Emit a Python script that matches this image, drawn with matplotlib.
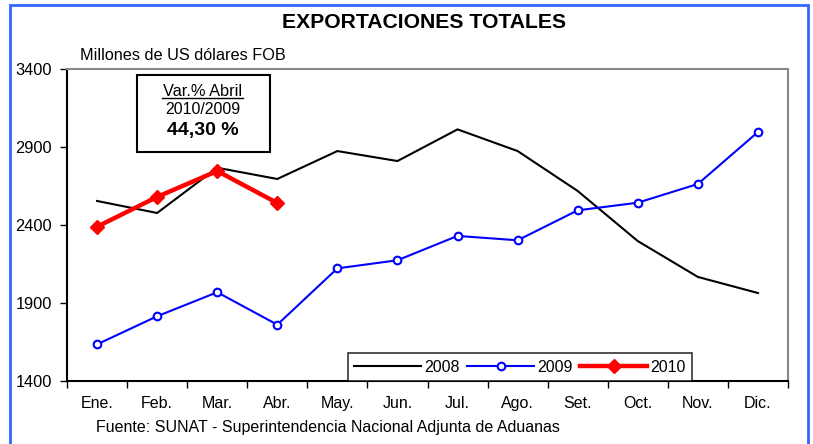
import matplotlib
matplotlib.use("Agg")
import matplotlib.pyplot as plt
from matplotlib.patches import Rectangle

plt.rcParams['font.family'] = ['Liberation Sans', 'DejaVu Sans']

# data (millones de US$ FOB)
meses = ['Ene.', 'Feb.', 'Mar.', 'Abr.', 'May.', 'Jun.', 'Jul.', 'Ago.', 'Set.', 'Oct.', 'Nov.', 'Dic.']
exp_2008 = [2554, 2477, 2767, 2695, 2874, 2810, 3013, 2874, 2618, 2297, 2067, 1964]
exp_2009 = [1635, 1815, 1969, 1761, 2122, 2174, 2330, 2302, 2494, 2543, 2663, 2996]
exp_2010 = [2389, 2580, 2746, 2541]
y_ticks = [1400, 1900, 2400, 2900, 3400]

fig = plt.figure(figsize=(8.13, 4.44), dpi=100)
ax = fig.add_axes([67/813, 1-381/444, 721/813, 312/444])

x = list(range(len(meses)))
ax.plot(x, exp_2008, color='black', lw=1.5, label='2008')
ax.plot(x, exp_2009, color='#0000ff', lw=1.5, marker='o', ms=5.5,
        mfc='white', mec='#0000ff', mew=1.5, label='2009')
ax.plot(x[:len(exp_2010)], exp_2010, color='#ff0000', lw=3.2, marker='D',
        ms=7, mfc='#ff0000', mec='#ff0000', label='2010')

ax.set_xlim(-0.5, 11.5)
ax.set_ylim(1400, 3400)
ax.set_yticks(y_ticks)
ax.set_yticklabels([str(v) for v in y_ticks], fontsize=11.8)
ax.set_xticks([i - 0.5 for i in range(13)])
ax.set_xticklabels([])
ax.set_xticks(x, minor=True)
ax.set_xticklabels(meses, minor=True, fontsize=11.5)
ax.tick_params(axis='x', which='major', length=5, width=1, direction='out')
ax.tick_params(axis='x', which='minor', length=0, pad=11)
ax.tick_params(axis='y', length=5, width=1, direction='out', pad=6)

ax.spines['left'].set_color('black')
ax.spines['bottom'].set_color('black')
ax.spines['left'].set_linewidth(1.5)
ax.spines['bottom'].set_linewidth(1.5)
ax.spines['top'].set_color('#888888')
ax.spines['right'].set_color('#888888')
ax.spines['top'].set_linewidth(1.5)
ax.spines['right'].set_linewidth(1.5)

leg = ax.legend(loc='lower left', bbox_to_anchor=((348-67)/721, 0, (692-348)/721, (381-347)/312),
                ncol=3, mode='expand', frameon=True, fancybox=False, fontsize=11.5,
                handlelength=4.2, borderaxespad=0, handletextpad=0.2, columnspacing=1.0)
leg.get_frame().set_edgecolor('black')
leg.get_frame().set_linewidth(1.2)

# annotation box
fig.patches.append(Rectangle((137/813, 1-152/444), 133/813, 77/444, transform=fig.transFigure,
                             fill=True, facecolor='white', edgecolor='black', lw=1.5, zorder=5))
fig.text(203/813, 1-92/444, 'Var.% Abril', ha='center', va='center', fontsize=11.8, zorder=6)
fig.add_artist(plt.Line2D([162/813, 243/813], [1-98.5/444, 1-98.5/444], color='black', lw=1, zorder=6))
fig.text(203/813, 1-110/444, '2010/2009', ha='center', va='center', fontsize=11.4, zorder=6)
fig.text(203/813, 1-131/444, '44,30 %', ha='center', va='center', fontsize=14, fontweight='bold', zorder=6)

fig.text(424/813, 1-22/444, 'EXPORTACIONES TOTALES', ha='center', va='center',
         fontsize=15.2, fontweight='bold')
fig.text(80/813, 1-55/444, 'Millones de US dólares FOB', ha='left', va='center', fontsize=11.7)
fig.text(96/813, 1-427/444, 'Fuente: SUNAT - Superintendencia Nacional Adjunta de Aduanas',
         ha='left', va='center', fontsize=11.5)

# outer blue frame
fig.patches.append(Rectangle((10/813, -0.05), 798/813, 1.05 - 5/444, transform=fig.transFigure,
                             fill=False, edgecolor='#3366ff', lw=2))

fig.savefig('out.png', dpi=100)
